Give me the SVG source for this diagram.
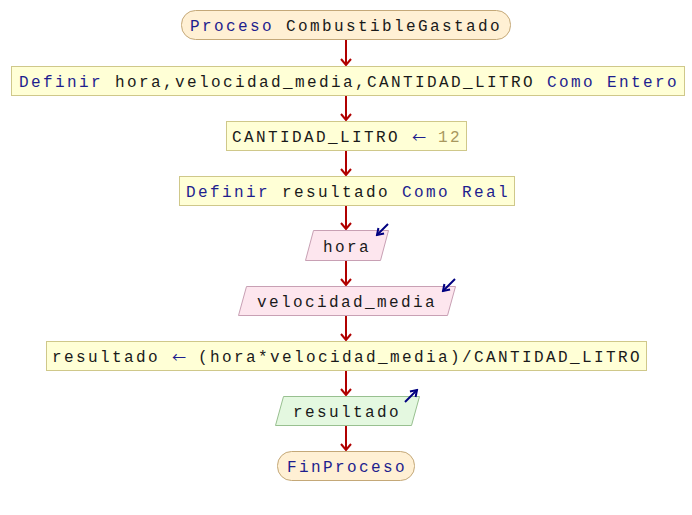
<svg xmlns="http://www.w3.org/2000/svg" width="692" height="515" viewBox="0 0 692 515">
<defs>
<style>
text{font-family:"Courier New","Liberation Mono",monospace;font-size:16px;letter-spacing:2.4px;fill:#1a1a1a;text-anchor:middle}
.kw{fill:#1e1e8e}
.arr{fill:#1e1e8e;font-family:"Noto Sans CJK SC",sans-serif;font-size:14px;letter-spacing:0}
.num{fill:#a8985e}
.term{fill:#fff0d4;stroke:#c4a878;stroke-width:1}
.proc{fill:#ffffd6;stroke:#cfc88a;stroke-width:1}
.inp{fill:#fde6ee;stroke:#c8a0b4;stroke-width:1}
.out{fill:#e4f8e0;stroke:#98c090;stroke-width:1}
.conn{stroke:#b00000;stroke-width:2;fill:none}
.io{stroke:#000080;stroke-width:2;fill:none}
</style>
<marker id="ah" viewBox="0 0 8 12" refX="7" refY="6" markerWidth="8" markerHeight="12" markerUnits="userSpaceOnUse" orient="auto">
<path d="M1,1 L7,6 L1,11" stroke="#b00000" stroke-width="2" fill="none"/>
</marker>
<marker id="bh" viewBox="0 0 10 10" refX="8" refY="5" markerWidth="10" markerHeight="10" markerUnits="userSpaceOnUse" orient="auto">
<path d="M2,1 L8,5 L2,9" stroke="#000080" stroke-width="2" fill="none"/>
</marker>
</defs>
<g id="connectors">
<line class="conn" x1="346" y1="39" x2="346" y2="65" marker-end="url(#ah)"/>
<line class="conn" x1="346" y1="95" x2="346" y2="120" marker-end="url(#ah)"/>
<line class="conn" x1="346" y1="150" x2="346" y2="175" marker-end="url(#ah)"/>
<line class="conn" x1="346" y1="205" x2="346" y2="229" marker-end="url(#ah)"/>
<line class="conn" x1="346" y1="260" x2="346" y2="285" marker-end="url(#ah)"/>
<line class="conn" x1="346" y1="315" x2="346" y2="340" marker-end="url(#ah)"/>
<line class="conn" x1="346" y1="370" x2="346" y2="395" marker-end="url(#ah)"/>
<line class="conn" x1="346" y1="425" x2="346" y2="450" marker-end="url(#ah)"/>
</g>
<g id="start">
<rect class="term" x="181.5" y="10.5" width="329" height="29" rx="14" ry="14"/>
<text x="346" y="31"><tspan class="kw">Proceso</tspan> CombustibleGastado</text>
</g>
<g id="define1">
<rect class="proc" x="11.5" y="66.5" width="673" height="29"/>
<text x="349" y="87"><tspan class="kw">Definir</tspan> hora,velocidad_media,CANTIDAD_LITRO <tspan class="kw">Como Entero</tspan></text>
</g>
<g id="assign1">
<rect class="proc" x="226.5" y="121.5" width="240" height="29"/>
<text x="347" y="142">CANTIDAD_LITRO <tspan class="arr">←</tspan> <tspan class="num">12</tspan></text>
</g>
<g id="define2">
<rect class="proc" x="179.5" y="176.5" width="335" height="29"/>
<text x="348" y="197"><tspan class="kw">Definir</tspan> resultado <tspan class="kw">Como Real</tspan></text>
</g>
<g id="read1">
<polygon class="inp" points="313.5,230.5 388.5,230.5 380.5,260.5 305.5,260.5"/>
<text x="347" y="252">hora</text>
<line class="io" x1="388" y1="224" x2="377" y2="235" marker-end="url(#bh)"/>
</g>
<g id="read2">
<polygon class="inp" points="246.5,286.5 455.5,286.5 447.5,315.5 238.5,315.5"/>
<text x="347" y="307">velocidad_media</text>
<line class="io" x1="455" y1="279" x2="443" y2="291" marker-end="url(#bh)"/>
</g>
<g id="assign2">
<rect class="proc" x="46.5" y="341.5" width="600" height="29"/>
<text x="347" y="362">resultado <tspan class="arr">←</tspan> (hora*velocidad_media)/CANTIDAD_LITRO</text>
</g>
<g id="write1">
<polygon class="out" points="283.5,396.5 419.5,396.5 411.5,425.5 275.5,425.5"/>
<text x="347" y="417">resultado</text>
<line class="io" x1="405" y1="402" x2="417" y2="390" marker-end="url(#bh)"/>
</g>
<g id="end">
<rect class="term" x="277.5" y="451.5" width="137" height="29" rx="14" ry="14"/>
<text x="347" y="472" class="kw">FinProceso</text>
</g>
</svg>
